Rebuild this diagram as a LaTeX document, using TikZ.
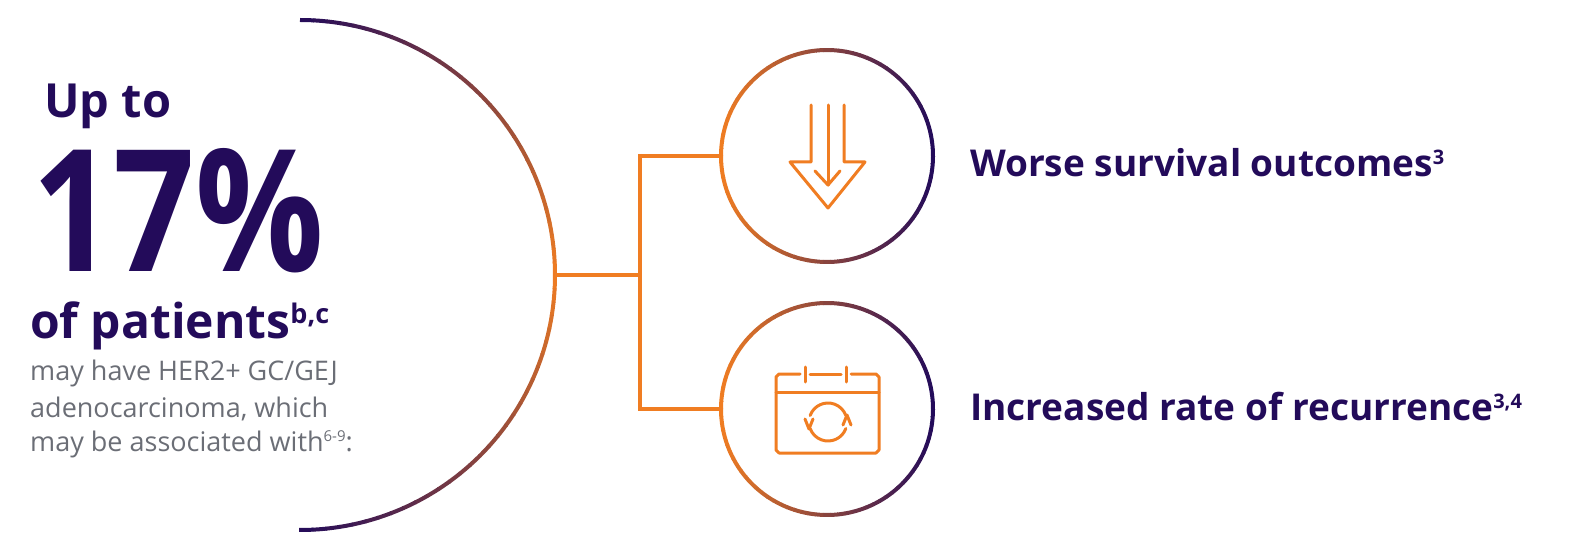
\documentclass[tikz,border=0pt]{standalone}
\usepackage{fontspec}
\usetikzlibrary{calc}
\setmainfont{Open Sans}
\definecolor{pur}{HTML}{230B5A}
\definecolor{org}{HTML}{F07D22}
\definecolor{gry}{HTML}{6B6E76}
\begin{document}
\begin{tikzpicture}[x=1pt,y=-1pt,
  ic/.style={org,line width=3pt,line cap=round,line join=round},
  big/.style={font=\bfseries\fontsize{#1}{#1}\selectfont,text=pur,inner sep=0pt,anchor=base west},
  sub/.style={font=\fontsize{27}{34}\selectfont,text=gry,inner sep=0pt,anchor=base west}]
\useasboundingbox (0,0) rectangle (1580,556);
% big arc
\foreach \a in {-90,-87,...,87}{
  \pgfmathsetmacro\t{abs(\a+1.5)/90*100}
  \draw[pur!\t!org,line width=4pt] ($(300,275)+(\a:255)$) arc[start angle=\a,end angle=\a+3.2,radius=255];
}
% circles
\foreach \cy/\n in {156/c1,409/c2}{
  \coordinate (\n) at (827,\cy);
  \foreach \a in {0,4,...,356}{
    \pgfmathsetmacro\t{(1+cos(\a+2))/2*100}
    \draw[pur!\t!org,line width=4pt] ($(827,\cy)+(\a:106)$) arc[start angle=\a,end angle=\a+4.3,radius=106];
  }
}
\coordinate (a0) at (555,275);
\coordinate (j1) at (640,156);
\coordinate (j2) at (640,409);
\draw[org,line width=4pt] (a0) -- (640,275);
\draw[org,line width=4pt] (j1 |- 0,154) -- (j2) -- ([xshift=-106pt]c2);
\draw[org,line width=4pt] (j1) -- ([xshift=-106pt]c1);
% arrow icon
\draw[ic] (811,105) -- (811,162) -- (790,162) -- (828,208) -- (865,162) -- (844,162) -- (844,105);
\draw[ic] (828,105) -- (828,185);
\draw[ic] (815,171) -- (828,185) -- (840,171);
% calendar icon
\draw[ic] (800,374) -- (779,374) -- (776,377) -- (776,450) -- (779,453) -- (876,453) -- (879,450) -- (879,377) -- (876,374) -- (851,374);
\draw[ic] (810,374) -- (841,374);
\draw[ic] (776,392) -- (879,392);
\draw[ic] (805,367) -- (805,382);
\draw[ic] (846,367) -- (846,382);
\draw[ic] ($(828,422)+(200:19)$) arc[start angle=200,end angle=340,radius=19];
\draw[ic] ($(828,422)+(20:19)$) arc[start angle=20,end angle=160,radius=19];
\draw[ic] (843,425) -- (847,415) -- (851,425);
\draw[ic] (805,419) -- (809,429) -- (813,419);
% texts
\node[big=47] (t1) at (44,118) {Up to};
\node[big=170,xscale=0.84] (t2) at (32,272) {17\%};
\node[big=48] (t3) at (30,338) {of patients\raisebox{15pt}{\fontsize{27}{27}\selectfont b,c}};
\node[sub] (t4a) at (30,380) {may have HER2+ GC/GEJ};
\node[sub] (t4b) at (30,417) {adenocarcinoma, which};
\node[sub] (t4c) at (30,451) {may be associated with\raisebox{10pt}{\fontsize{15}{15}\selectfont 6-9}:};
\node[big=37] (r1) at (970,177) {Worse survival outcomes\raisebox{12pt}{\fontsize{20}{20}\selectfont 3}};
\node[big=37] (r2) at (970,420) {Increased rate of recurrence\raisebox{12pt}{\fontsize{20}{20}\selectfont 3,4}};
\end{tikzpicture}
\end{document}
